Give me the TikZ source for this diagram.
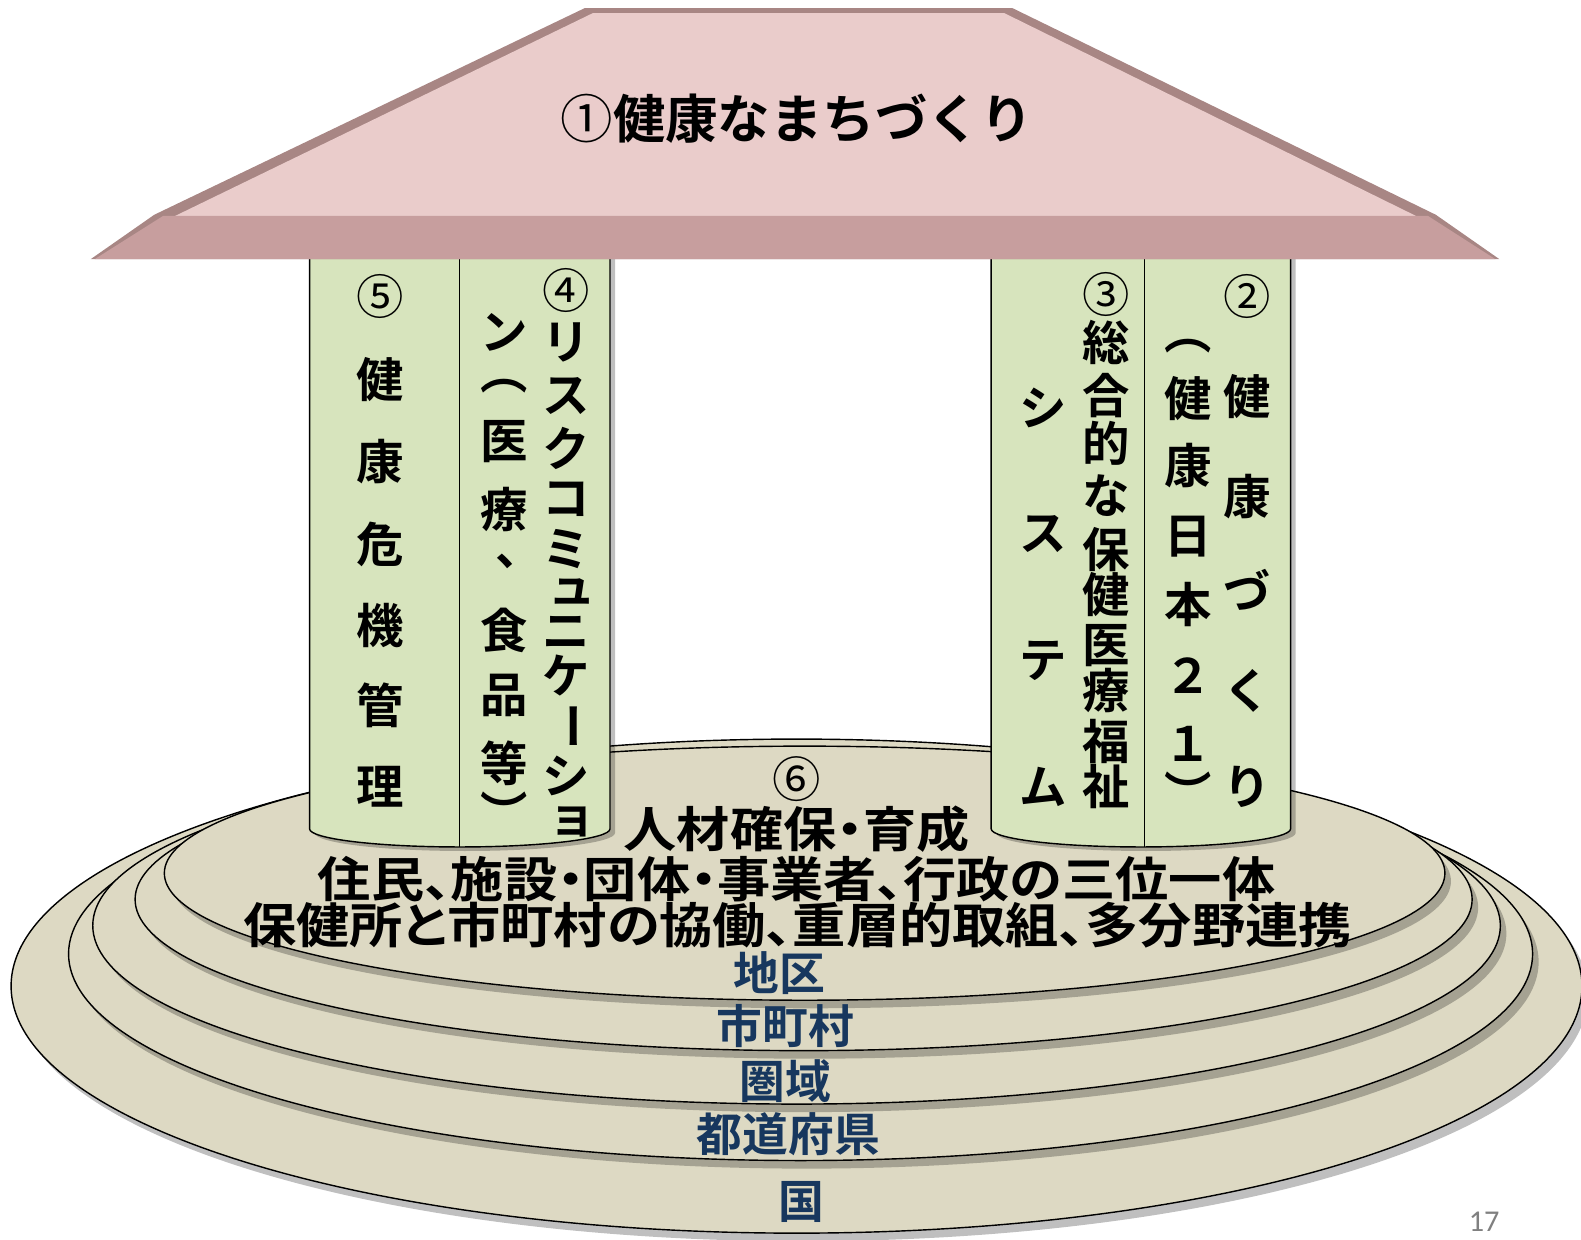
\documentclass[tikz,border=0pt]{standalone}
\usepackage{fontspec}
\usepackage{graphicx}
\newfontfamily\jp{Noto Sans CJK JP}[BoldFont=* Bold]
\newfontfamily\jpp{Noto Sans CJK JP}[BoldFont=* Bold, RawFeature=+palt]
\newfontfamily\pgnumfont{Carlito}
\definecolor{roofdark}{HTML}{A88684}
\definecolor{roofface}{HTML}{EACCCB}
\definecolor{roofband}{HTML}{C79E9E}
\definecolor{colfill}{HTML}{D7E4BD}
\definecolor{discfill}{HTML}{DDD9C3}
\definecolor{navy}{HTML}{17375E}
\newcommand{\circnum}[1]{{\mdseries #1}}
\begin{document}
\begin{tikzpicture}[x=0.5pt,y=-0.5pt,
  disc/.style={fill=discfill, draw=black, line width=0.7pt},
  shade/.style={fill=black, opacity=0.25},
  colbox/.style={fill=colfill, draw=black, line width=0.7pt},
  vt/.style={font=\jp\bfseries\fontsize{23.5}{23.5}\selectfont, inner sep=0pt},
  titletext/.style={font=\jp\bfseries\fontsize{26}{26}\selectfont, inner sep=0pt},
  basetext/.style={font=\jpp\bfseries\fontsize{24}{24}\selectfont, inner sep=0pt},
  leveltext/.style={font=\jp\bfseries\fontsize{22.7}{22.7}\selectfont, text=navy, inner sep=0pt},
  pagenum/.style={font=\pgnumfont\fontsize{15}{15}\selectfont, text=black!50, inner sep=0pt}]
\useasboundingbox (0,0) rectangle (1568,1229);
% ---- discs (bottom to top)
\foreach \cx/\cy/\rx/\ry in {790/978/779/245, 794/946/726/205, 790/918/698/177, 797/892/663/150, 798/866/635/126}{
  \fill[shade] (\cx+6,\cy+8) ellipse [x radius=\rx, y radius=\ry];
  \draw[disc] (\cx,\cy) ellipse [x radius=\rx, y radius=\ry];
}
% ---- columns
\foreach \xl/\xr in {307/605, 983/1280}{
  \fill[shade] (\xl+5,257) -- (\xl+5,826) arc[start angle=180, end angle=0, x radius={(\xr-\xl)/2}, y radius=18] -- (\xr+5,257) -- cycle;
  \draw[colbox] (\xl,250) -- (\xl,822) arc[start angle=180, end angle=0, x radius={(\xr-\xl)/2}, y radius=18] -- (\xr,250) -- cycle;
}
\draw[line width=0.7pt] (456,250) -- (456,840);
\draw[line width=0.7pt] (1135,250) -- (1135,840);
% ---- roof
\fill[roofdark] (580,8) -- (1004,8) -- (1424,213) -- (1487,257) -- (90,257) -- (153,213) -- cycle;
\fill[roofface] (588,13) -- (996,13) -- (1404,214) -- (174,214) -- cycle;
\fill[roofband] (162,214) -- (1416,214) -- (1483,257) -- (94,257) -- cycle;
\node[titletext] (title) at (790,118) {\circnum{①}健康なまちづくり};
% ---- column 5
\node[vt] (c5-0) at (377,294) {\circnum{⑤}};
\foreach \c/\y [count=\i] in {健/376,康/458,危/540,機/620,管/700,理/780}
  \node[vt] (c5-\i) at (377,\y) {\c};
% ---- column 4, right line
\node[vt] (c4r-0) at (562,288) {\circnum{④}};
\foreach \c/\y [count=\i] in {リ/340,ス/393,ク/445,コ/495,ミ/545,ニ/627,ケ/670,シ/770}
  \node[vt] (c4r-\i) at (562,\y) {\c};
\node[vt] (c4r-yu) at (567,587) {ュ};
\node[vt, rotate=-90] (c4r-bar) at (562,720) {ー};
\node[vt] (c4r-yo) at (567,815) {ョ};
% ---- column 4, left line
\foreach \c/\y [count=\i] in {ン/330,医/438,療/505,食/625,品/690,等/757}
  \node[vt] (c4l-\i) at (500,\y) {\c};
\node[vt] (c4l-op) at (500,383) {︵};
\node[vt] (c4l-cm) at (515,557) {、};
\node[vt] (c4l-cp) at (500,805) {︶};
% ---- column 3, right line
\node[vt] (c3r-0) at (1097,292) {\circnum{③}};
\foreach \c/\y [count=\i] in {総/340,合/392,的/440,な/492,保/545,健/590,医/640,療/685,福/735,祉/780}
  \node[vt] (c3r-\i) at (1097,\y) {\c};
% ---- column 3, left line
\foreach \c/\y [count=\i] in {シ/405,ス/530,テ/655,ム/780}
  \node[vt] (c3l-\i) at (1035,\y) {\c};
% ---- column 2, right line
\node[vt] (c2r-0) at (1237,294) {\circnum{②}};
\foreach \c/\y [count=\i] in {健/393,康/493,づ/585,く/685,り/780}
  \node[vt] (c2r-\i) at (1237,\y) {\c};
% ---- column 2, left line
\foreach \c/\y [count=\i] in {健/395,康/462,日/532,本/600,２/670,１/738}
  \node[vt] (c2l-\i) at (1178,\y) {\c};
\node[vt] (c2l-op) at (1178,343) {︵};
\node[vt] (c2l-cp) at (1178,785) {︶};
% ---- base texts
\node[basetext] (n6) at (790,773) {\circnum{⑥}};
\node[basetext] (b1) at (790,822) {\scalebox{1.1}[1]{人材確保・育成}};
\node[basetext] (b2) at (790,872) {\scalebox{1.1}[1]{住民、施設・団体・事業者、行政の三位一体}};
\node[basetext] (b3) at (791,918) {\scalebox{1.1}[1]{保健所と市町村の協働、重層的取組、多分野連携}};
\node[leveltext] (lv1) at (773,965) {地区};
\node[leveltext] (lv2) at (779,1018) {市町村};
\node[leveltext] (lv3) at (779,1072) {圏域};
\node[leveltext] (lv4) at (782,1125) {都道府県};
\node[leveltext] (lv5) at (795,1192) {国};
\node[pagenum] (pg) at (1472,1212) {17};
\end{tikzpicture}
\end{document}
